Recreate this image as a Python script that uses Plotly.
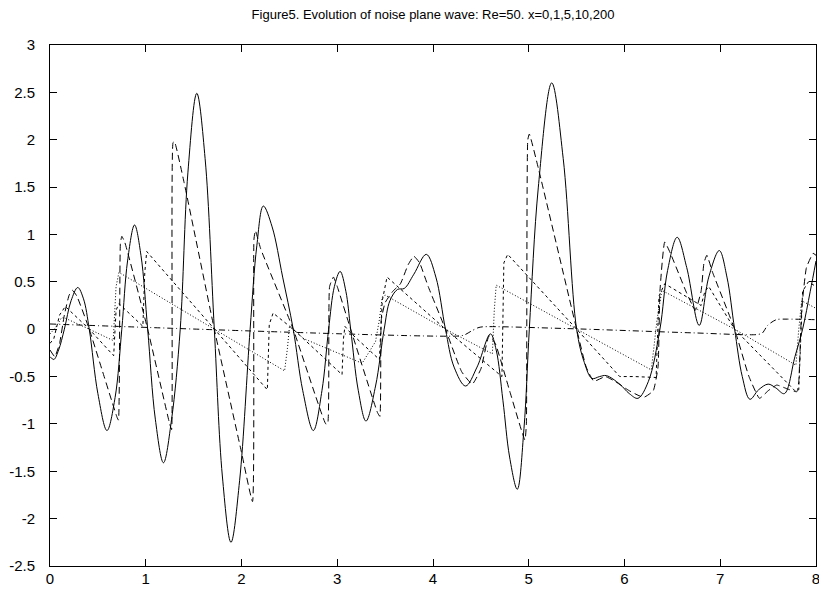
import plotly.graph_objects as go

# ---- data ----
x0_t = [0.00, 0.04, 0.09, 0.15, 0.22, 0.29, 0.35, 0.41, 0.50, 0.595, 0.68, 0.75, 0.81, 0.883, 0.95,
        1.02, 1.10, 1.185, 1.27, 1.36, 1.44, 1.533, 1.62, 1.716, 1.80, 1.89, 1.98, 2.09, 2.16, 2.228,
        2.32, 2.43, 2.54, 2.64, 2.75, 2.84, 2.91, 2.97, 3.03, 3.09, 3.14, 3.22, 3.30, 3.40, 3.49,
        3.55, 3.63, 3.70, 3.80, 3.93, 4.03, 4.13, 4.22, 4.34, 4.46, 4.60, 4.66, 4.73, 4.80, 4.88,
        4.95, 5.006, 5.10, 5.24, 5.36, 5.50, 5.58, 5.66, 5.74, 5.81, 5.95, 6.05, 6.14, 6.25, 6.37,
        6.45, 6.55, 6.65, 6.78, 6.88, 6.99, 7.07, 7.15, 7.23, 7.31, 7.40, 7.50, 7.58, 7.67, 7.78,
        7.86, 7.94, 8.00]
x0_u = [-0.29, -0.32, -0.22, 0.00, 0.30, 0.44, 0.32, 0.00, -0.68, -1.07, -0.72, 0.00, 0.72, 1.10, 0.78,
        0.00, -0.95, -1.41, -0.95, 0.00, 1.65, 2.49, 1.80, 0.00, -1.55, -2.25, -1.60, 0.00, 0.88, 1.30,
        1.08, 0.55, 0.00, -0.65, -1.07, -0.65, 0.00, 0.45, 0.61, 0.40, 0.00, -0.65, -0.97, -0.60, 0.00,
        0.30, 0.42, 0.43, 0.58, 0.79, 0.55, 0.00, -0.40, -0.60, -0.40, -0.05, -0.22, -0.75, -1.35, -1.69,
        -1.05, 0.00, 1.50, 2.60, 1.80, 0.00, -0.35, -0.52, -0.50, -0.49, -0.58, -0.68, -0.73, -0.55, 0.00,
        0.62, 0.97, 0.65, 0.04, 0.55, 0.83, 0.55, 0.00, -0.50, -0.74, -0.64, -0.58, -0.62, -0.68, -0.29,
        0.00, 0.40, 0.72]

x1_t = [0.00, 0.05, 0.10, 0.15, 0.20, 0.235, 0.28, 0.41, 0.55, 0.70, 0.715, 0.735, 0.75, 0.78, 1.02,
        1.25, 1.27, 1.285, 1.30, 1.40, 1.716, 2.00, 2.115, 2.13, 2.145, 2.20, 2.54, 2.88, 2.90, 2.92,
        2.96, 3.00, 3.14, 3.42, 3.445, 3.46, 3.50, 3.58, 3.66, 3.74, 3.80, 3.86, 3.95, 4.13, 4.30,
        4.41, 4.50, 4.585, 4.65, 4.80, 4.96, 4.975, 4.99, 5.006, 5.10, 5.50, 5.60, 5.68, 5.80, 5.90,
        6.05, 6.20, 6.30, 6.35, 6.37, 6.42, 6.48, 6.65, 6.74, 6.80, 6.83, 6.86, 6.92, 7.15, 7.30,
        7.41, 7.50, 7.59, 7.70, 7.80, 7.82, 7.85, 7.90, 7.97, 8.00]
x1_u = [-0.22, -0.29, -0.15, 0.15, 0.36, 0.41, 0.35, 0.00, -0.45, -0.93, -0.96, 0.90, 0.98, 0.92, 0.00,
        -1.00, -1.06, 1.97, 1.98, 1.55, 0.00, -1.30, -1.82, 0.95, 1.04, 0.85, 0.00, -1.00, -1.00, 0.45,
        0.55, 0.45, 0.00, -0.88, -0.92, 0.10, 0.28, 0.40, 0.48, 0.68, 0.77, 0.70, 0.45, 0.00, -0.45,
        -0.58, -0.42, -0.07, -0.15, -0.65, -1.17, -1.00, 2.00, 2.06, 1.70, 0.00, -0.40, -0.55, -0.50, -0.55,
        -0.65, -0.72, -0.65, -0.40, 0.40, 0.92, 0.80, 0.38, 0.20, 0.40, 0.70, 0.78, 0.60, 0.00, -0.50,
        -0.73, -0.65, -0.59, -0.63, -0.66, -0.55, 0.20, 0.65, 0.80, 0.78]

x5_t = [0.00, 0.04, 0.10, 0.16, 0.41, 0.665, 0.69, 0.72, 0.97, 0.99, 1.01, 1.716, 2.27, 2.29, 2.33,
        2.54, 3.05, 3.065, 3.08, 3.14, 3.44, 3.47, 3.52, 4.13, 4.72, 4.74, 4.78, 5.50, 5.95, 6.10,
        6.33, 6.36, 6.42, 6.80, 6.84, 6.88, 7.15, 7.78, 7.82, 7.86, 7.92, 8.00]
x5_u = [-0.15, -0.10, 0.15, 0.24, 0.00, -0.28, 0.20, 0.27, 0.03, 0.60, 0.82, 0.00, -0.64, 0.05, 0.17,
        0.00, -0.48, -0.10, 0.03, -0.04, -0.32, 0.30, 0.55, 0.00, -0.50, 0.70, 0.79, 0.00, -0.50, -0.50,
        -0.51, 0.35, 0.48, 0.25, 0.40, 0.45, 0.00, -0.65, -0.64, 0.40, 0.50, 0.45]

x10_t = [0.00, 0.06, 0.12, 0.15, 0.41, 0.66, 0.69, 0.72, 1.716, 2.45, 2.48, 2.50, 2.54, 2.65, 3.26,
         3.40, 3.44, 3.47, 3.50, 4.13, 4.62, 4.64, 4.66, 5.50, 6.28, 6.34, 6.39, 7.15, 7.79, 7.82,
         7.85, 8.00]
x10_u = [-0.05, 0.02, 0.12, 0.12, 0.00, -0.12, 0.45, 0.60, 0.00, -0.44, -0.20, 0.02, 0.00, -0.10, -0.36,
         -0.13, 0.10, 0.34, 0.36, 0.00, -0.26, 0.20, 0.465, 0.00, -0.43, 0.10, 0.41, 0.00, -0.38, 0.00,
         0.30, 0.22]

x200_t = [0.00, 4.27, 4.33, 4.40, 4.47, 4.52, 5.38, 6.72, 7.39, 7.44, 7.495, 7.585, 7.70, 8.00]
x200_u = [0.055, -0.072, -0.06, -0.02, 0.015, 0.025, 0.007, -0.039, -0.056, -0.04, 0.04, 0.10, 0.106, 0.10]

x_ticks = [0, 1, 2, 3, 4, 5, 6, 7, 8]
x_ticklabels = ["0", "1", "2", "3", "4", "5", "6", "7", "8"]
y_ticks = [-2.5, -2, -1.5, -1, -0.5, 0, 0.5, 1, 1.5, 2, 2.5, 3]
y_ticklabels = ["-2.5", "-2", "-1.5", "-1", "-0.5", "0", "0.5", "1", "1.5", "2", "2.5", "3"]

title_text = "Figure5. Evolution of noise plane wave: Re=50. x=0,1,5,10,200"

FONT = "Liberation Sans, Arial, sans-serif"

W, H = 819, 590

fig = go.Figure()
fig.add_trace(go.Scatter(x=x200_t, y=x200_u, mode="lines", name="x=200",
                         line=dict(color="black", width=1, dash="6px,3px,1px,3px", shape="spline", smoothing=0.8)))
fig.add_trace(go.Scatter(x=x10_t, y=x10_u, mode="lines", name="x=10",
                         line=dict(color="black", width=1, dash="1px,2px")))
fig.add_trace(go.Scatter(x=x5_t, y=x5_u, mode="lines", name="x=5",
                         line=dict(color="black", width=1, dash="3px,3px")))
fig.add_trace(go.Scatter(x=x1_t, y=x1_u, mode="lines", name="x=1",
                         line=dict(color="black", width=1, dash="7px,4px", shape="spline", smoothing=0.4)))
fig.add_trace(go.Scatter(x=x0_t, y=x0_u, mode="lines", name="x=0",
                         line=dict(color="black", width=1, shape="spline", smoothing=1.0)))

axis_common = dict(showgrid=False, zeroline=False, showline=True, linecolor="black", linewidth=1,
                   mirror="allticks", ticks="inside", ticklen=7, tickcolor="black", tickwidth=1,
                   automargin=False, ticklabeloverflow="allow",
                   tickfont=dict(family=FONT, size=15, color="black"))

fig.update_layout(
    width=W, height=H,
    margin=dict(l=50, r=3, t=45, b=24, autoexpand=False),
    paper_bgcolor="white", plot_bgcolor="white",
    showlegend=False,
    title=dict(text=title_text, x=433 / W, xanchor="center", xref="container",
               y=1 - 14 / H, yref="container", yanchor="middle", automargin=False,
               font=dict(family=FONT, size=13, color="black")),
    xaxis=dict(range=[0, 8], tickvals=x_ticks, ticktext=x_ticklabels, ticklabelstandoff=-1, **axis_common),
    yaxis=dict(range=[-2.5, 3], tickvals=y_ticks, ticktext=y_ticklabels, ticklabelstandoff=11, **axis_common),
)

# remove the browser's default 8px body margin so the figure fills the window exactly
page_fix = "document.body.style.margin='0px'; document.body.style.overflow='hidden';"
fig.write_html("out.html", post_script=page_fix, config={"displayModeBar": False})
